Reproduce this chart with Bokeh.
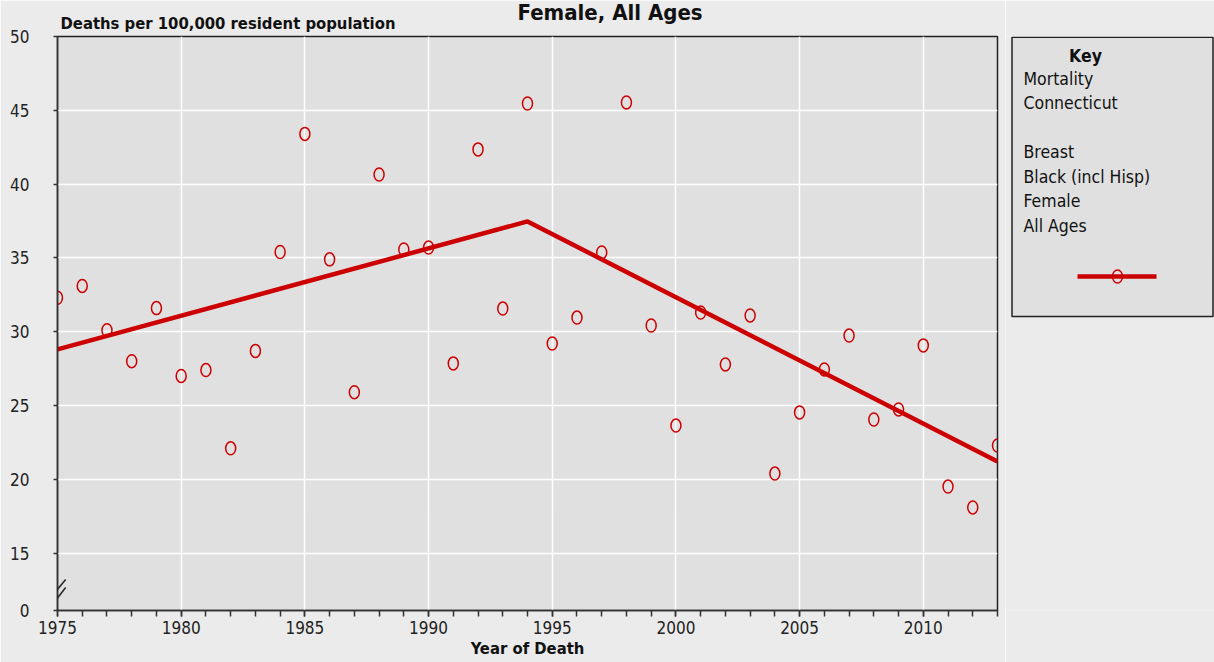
from bokeh.plotting import figure
from bokeh.layouts import row
from bokeh.models import Range1d, FixedTicker, CustomJSTickFormatter, Title, Arrow
from bokeh.core.properties import value
from bokeh.embed import file_html
from bokeh.resources import INLINE

# ---------------- data ----------------
years = list(range(1975, 2014))
rates = [32.3, 33.1, 30.1, 28.0, 31.6, 27.0, 27.4, 22.1, 28.7, 35.4,
         43.4, 34.9, 25.9, 40.65, 35.57, 35.7, 27.85, 42.35, 31.57, 45.46,
         29.2, 30.96, 35.37, 45.53, 30.42, 23.64, 31.3, 27.78, 31.1, 20.39,
         24.53, 27.44, 29.74, 24.05, 24.73, 29.07, 19.51, 18.09, 22.29]
trend_years = [1975, 1994, 2013]
trend_rates = [28.8, 37.47, 21.2]

x_major_ticks = list(range(1975, 2014, 5))
y_break = 11.11          # axis position shown as "0" (broken axis)
y_major_ticks = [15, 20, 25, 30, 35, 40, 45, 50]
y_grid_ticks = [15, 20, 25, 30, 35, 40, 45]

title_text = "Female, All Ages"
y_title = "Deaths per 100,000 resident population"
x_title = "Year of Death"
key_title = "Key"
key_lines = ["Mortality", "Connecticut", "", "Breast", "Black (incl Hisp)", "Female", "All Ages"]

# ---------------- style ----------------
RED = "#cc0000"
FONT = "'DejaVu Sans Condensed', 'DejaVu Sans', sans-serif"
PLOT_BG = "#e0e0e0"
PAGE_BG = "#ebebeb"
AXIS_C = "#333333"

p = figure(width=1005, height=662,
           x_range=Range1d(1975, 2013), y_range=Range1d(y_break, 50),
           output_backend="svg", toolbar_location=None,
           min_border_left=57, min_border_right=8,
           min_border_top=36, min_border_bottom=52,
           background_fill_color=PLOT_BG, border_fill_color=PAGE_BG)
p.outline_line_color = "#222222"
p.outline_line_width = 1.5

# titles (stacked above the frame)
p.add_layout(Title(text=y_title, align="left", offset=3, standoff=8,
                   text_font=FONT, text_font_style="bold", text_font_size="16.5px",
                   text_color="#111111"), "above")
p.add_layout(Title(text=title_text, align="left", offset=460, standoff=-34,
                   text_font=FONT, text_font_style="bold", text_font_size="22px",
                   text_color="#111111"), "above")

# x axis
p.xaxis.ticker = FixedTicker(ticks=x_major_ticks, minor_ticks=years)
p.xaxis.major_tick_out = 6
p.xaxis.major_tick_in = 0
p.xaxis.minor_tick_out = 6
p.xaxis.minor_tick_in = 0
p.xaxis.major_label_text_font = FONT
p.xaxis.major_label_text_font_size = "17px"
p.xaxis.major_label_text_color = "#222222"
p.xaxis.major_label_standoff = 4
p.xaxis.axis_label = x_title
p.xaxis.axis_label_text_font = FONT
p.xaxis.axis_label_text_font_style = "bold"
p.xaxis.axis_label_text_font_size = "16.5px"
p.xaxis.axis_label_text_color = "#111111"
p.xaxis.axis_label_standoff = 2

# y axis
p.yaxis.ticker = FixedTicker(ticks=[y_break] + y_major_ticks)
p.yaxis.formatter = CustomJSTickFormatter(code="return tick < 14 ? '0' : tick.toFixed(0);")
p.yaxis.major_tick_out = 4
p.yaxis.major_tick_in = 0
p.yaxis.minor_tick_line_color = None
p.yaxis.major_label_text_font = FONT
p.yaxis.major_label_text_font_size = "17px"
p.yaxis.major_label_text_color = "#222222"
p.yaxis.major_label_standoff = 24

for ax in (p.xaxis, p.yaxis):
    ax.axis_line_color = AXIS_C
    ax.axis_line_width = 1.5
    ax.major_tick_line_color = AXIS_C
    ax.major_tick_line_width = 1.5
    ax.minor_tick_line_width = 1.5
p.xaxis.minor_tick_line_color = AXIS_C

# grid
p.xgrid.ticker = FixedTicker(ticks=x_major_ticks)
p.ygrid.ticker = FixedTicker(ticks=y_grid_ticks)
p.grid.grid_line_color = "white"
p.grid.grid_line_width = 1.5

# data
p.line(trend_years, trend_rates, line_color=RED, line_width=4.5)
p.ellipse(x=years, y=rates, width=10, height=13,
          width_units="screen", height_units="screen",
          fill_color=None, line_color=RED, line_width=1.5)

# axis break marks
for y0, y1 in [(12.13, 13.21), (11.52, 12.67)]:
    p.add_layout(Arrow(end=None, x_start=1974.80, y_start=y0, x_end=1975.33, y_end=y1,
                       line_color="#222222", line_width=1.5))

# ---------------- key panel (same vertical borders as the main plot) ----------------
lg = figure(width=209, height=662,
            x_range=Range1d(0, 209), y_range=Range1d(574, 0),
            output_backend="svg", toolbar_location=None,
            min_border_left=0, min_border_right=0,
            min_border_top=36, min_border_bottom=52,
            background_fill_color=PAGE_BG, border_fill_color=PAGE_BG)
lg.axis.visible = False
lg.grid.visible = False
lg.outline_line_color = None

lg.quad(left=[6.5], right=[207.5], top=[0.8], bottom=[280], fill_color=PLOT_BG,
        line_color="#222222", line_width=1.5)
lg.text(x=[80], y=[19], text=[key_title], text_align="center", text_baseline="middle",
        text_font=value(FONT), text_font_style="bold", text_font_size="17.5px",
        text_color="#111111")
lg.text(x=[18] * len(key_lines), y=[42 + 24.5 * i for i in range(len(key_lines))],
        text=key_lines, text_align="left", text_baseline="middle",
        text_font=value(FONT), text_font_size="17.5px", text_color="#111111")
lg.line([72, 151], [240, 240], line_color=RED, line_width=4.5)
lg.ellipse(x=[112], y=[240], width=10, height=13, width_units="screen", height_units="screen",
           fill_color=None, line_color=RED, line_width=1.5)

layout = row(p, lg, spacing=0)

open("out.html", "w").write(file_html(layout, INLINE))
